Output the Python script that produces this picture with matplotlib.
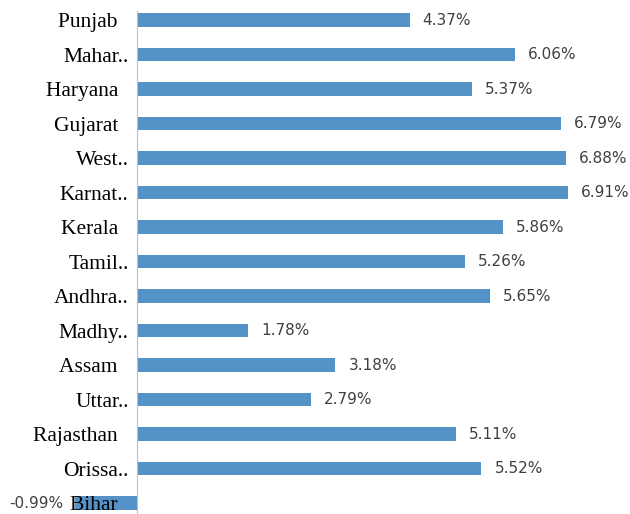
import matplotlib
matplotlib.use("Agg")
import matplotlib.pyplot as plt
from matplotlib.transforms import offset_copy

states = ["Punjab  ", "Mahar..", "Haryana  ", "Gujarat  ", "West..", "Karnat..", "Kerala  ",
          "Tamil..", "Andhra..", "Madhy..", "Assam  ", "Uttar..", "Rajasthan  ", "Orissa..", "Bihar  "]
growth = [4.37, 6.06, 5.37, 6.79, 6.88, 6.91, 5.86, 5.26, 5.65, 1.78, 3.18, 2.79, 5.11, 5.52, -0.99]
labels = ["%.2f%%" % v for v in growth]

W, H = 630, 514
fig = plt.figure(figsize=(W / 100, H / 100), dpi=100)
ax = fig.add_axes([0, 0, 1, 1])

x0_px, ppu = 137, 62.4
ax.set_xlim(-x0_px / ppu, (W - x0_px) / ppu)
y0_px, ypu = 20, 34.5
ax.set_ylim((H - y0_px) / ypu, -y0_px / ypu)

pos = list(range(len(states)))
ax.barh(pos, growth, height=0.38, color="#5592C8")

for spine in ["top", "right", "bottom"]:
    ax.spines[spine].set_visible(False)
ax.spines["left"].set_position(("data", 0))
ax.spines["left"].set_color("#BFBFBF")
ax.spines["left"].set_bounds(-0.27, 15)
ax.set_xticks([])
ax.set_yticks(pos)
ax.set_yticklabels(states, fontfamily="Liberation Serif", fontsize=15.5, color="#000000")
ax.tick_params(axis="y", length=0, pad=6)

for p, v, t in zip(pos, growth, labels):
    if v >= 0:
        tr = offset_copy(ax.transData, fig=fig, x=13, y=0, units="dots")
        ax.text(v, p, t, transform=tr, ha="left", va="center", fontsize=11,
                color="#404040", family="DejaVu Sans")
    else:
        tr = offset_copy(ax.transData, fig=fig, x=-12, y=0, units="dots")
        ax.text(v, p, t, transform=tr, ha="right", va="center", fontsize=11,
                color="#404040", family="DejaVu Sans")

fig.savefig("out.png", dpi=100)
